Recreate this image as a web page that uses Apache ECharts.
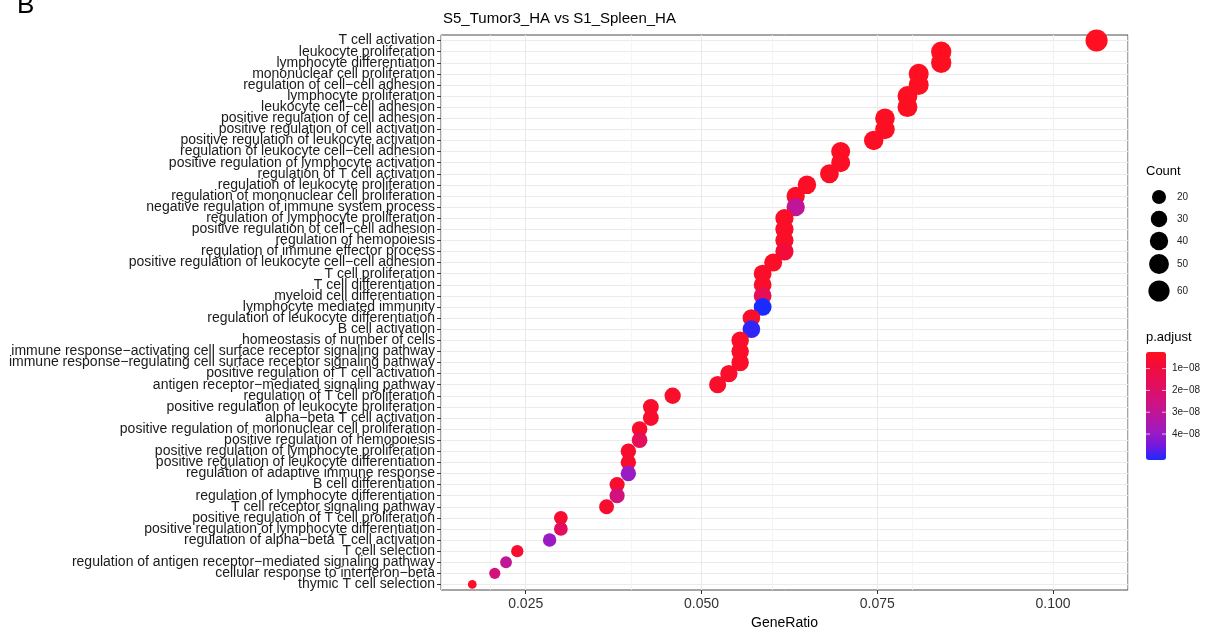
<!DOCTYPE html>
<html>
<head>
<meta charset="utf-8">
<title>S5_Tumor3_HA vs S1_Spleen_HA</title>
<script src="https://cdn.jsdelivr.net/npm/echarts@6/dist/echarts.min.js"></script>
<style>
  html, body { margin: 0; padding: 0; background: #fff; }
  #main { width: 1209px; height: 628px; }
</style>
</head>
<body>
<div id="main"></div>
<script>
// GO terms, top to bottom
var terms = [
  'T cell activation',
  'leukocyte proliferation',
  'lymphocyte differentiation',
  'mononuclear cell proliferation',
  'regulation of cell\u2212cell adhesion',
  'lymphocyte proliferation',
  'leukocyte cell\u2212cell adhesion',
  'positive regulation of cell adhesion',
  'positive regulation of cell activation',
  'positive regulation of leukocyte activation',
  'regulation of leukocyte cell\u2212cell adhesion',
  'positive regulation of lymphocyte activation',
  'regulation of T cell activation',
  'regulation of leukocyte proliferation',
  'regulation of mononuclear cell proliferation',
  'negative regulation of immune system process',
  'regulation of lymphocyte proliferation',
  'positive regulation of cell\u2212cell adhesion',
  'regulation of hemopoiesis',
  'regulation of immune effector process',
  'positive regulation of leukocyte cell\u2212cell adhesion',
  'T cell proliferation',
  'T cell differentiation',
  'myeloid cell differentiation',
  'lymphocyte mediated immunity',
  'regulation of leukocyte differentiation',
  'B cell activation',
  'homeostasis of number of cells',
  'immune response\u2212activating cell surface receptor signaling pathway',
  'immune response\u2212regulating cell surface receptor signaling pathway',
  'positive regulation of T cell activation',
  'antigen receptor\u2212mediated signaling pathway',
  'regulation of T cell proliferation',
  'positive regulation of leukocyte proliferation',
  'alpha\u2212beta T cell activation',
  'positive regulation of mononuclear cell proliferation',
  'positive regulation of hemopoiesis',
  'positive regulation of lymphocyte proliferation',
  'positive regulation of leukocyte differentiation',
  'regulation of adaptive immune response',
  'B cell differentiation',
  'regulation of lymphocyte differentiation',
  'T cell receptor signaling pathway',
  'positive regulation of T cell proliferation',
  'positive regulation of lymphocyte differentiation',
  'regulation of alpha\u2212beta T cell activation',
  'T cell selection',
  'regulation of antigen receptor\u2212mediated signaling pathway',
  'cellular response to interferon\u2212beta',
  'thymic T cell selection'
];

var geneRatio = [
  0.1062, 0.0841, 0.0841, 0.0809, 0.0809, 0.0793, 0.0793, 0.0761, 0.0761, 0.0745,
  0.0698, 0.0698, 0.0682, 0.0650, 0.0634, 0.0634, 0.0618, 0.0618, 0.0618, 0.0618,
  0.0602, 0.0587, 0.0587, 0.0587, 0.0587, 0.0571, 0.0571, 0.0555, 0.0555, 0.0555,
  0.0539, 0.0523, 0.0459, 0.0428, 0.0428, 0.0412, 0.0412, 0.0396, 0.0396, 0.0396,
  0.0380, 0.0380, 0.0365, 0.0300, 0.0300, 0.0284, 0.0238, 0.0222, 0.0206, 0.0174
];

var geneCount = [
  67, 53, 53, 51, 51, 50, 50, 48, 48, 47,
  44, 44, 43, 41, 40, 40, 39, 39, 39, 39,
  38, 37, 37, 37, 37, 36, 36, 35, 35, 35,
  34, 33, 29, 27, 27, 26, 26, 25, 25, 25,
  24, 24, 23, 19, 19, 18, 15, 14, 13, 11
];

var pAdjust = [
  2.4e-9, 2.6e-9, 2.7e-9, 2.9e-9, 3.0e-9, 3.1e-9, 3.2e-9, 3.3e-9, 3.4e-9, 3.5e-9,
  3.6e-9, 3.7e-9, 3.8e-9, 3.9e-9, 4.0e-9, 3.0e-8, 4.1e-9, 4.2e-9, 4.3e-9, 8.3e-9,
  4.4e-9, 4.5e-9, 4.6e-9, 1.55e-8, 5.19e-8, 4.7e-9, 5.04e-8, 4.8e-9, 4.9e-9, 5.0e-9,
  5.1e-9, 5.2e-9, 5.3e-9, 5.4e-9, 5.5e-9, 5.6e-9, 1.63e-8, 5.7e-9, 5.8e-9, 3.95e-8,
  5.9e-9, 2.4e-8, 6.0e-9, 6.1e-9, 1.73e-8, 3.95e-8, 6.2e-9, 3.0e-8, 2.4e-8, 4.9e-9
];

var xTicks = [0.025, 0.050, 0.075, 0.100];
var xMinorTicks = [0.0375, 0.0625, 0.0875];
var countBreaks = [20, 30, 40, 50, 60];
var padjBreaks = [1e-8, 2e-8, 3e-8, 4e-8];
var padjBreakLabels = ['1e\u221208', '2e\u221208', '3e\u221208', '4e\u221208'];

var FONT = '"Liberation Sans", Arial, Helvetica, sans-serif';

// size scale (ggplot-like area scale)
var cMin = Math.min.apply(null, geneCount), cMax = Math.max.apply(null, geneCount);
function dotSize(c) {
  var t = Math.max(0, (c - cMin) / (cMax - cMin));
  return 8.7 + 13.4 * Math.sqrt(t);
}
var pMin = Math.min.apply(null, pAdjust), pMax = Math.max.apply(null, pAdjust);

var points = terms.map(function (t, i) {
  return [geneRatio[i], t, geneCount[i], pAdjust[i]];
});

// legend layout
var barLeft = 1146, barTop = 352, barW = 20, barH = 108;
var countKeyY = [197, 219, 241, 264, 291];
var graphics = [
  { type: 'text', left: 17, top: -7, style: { text: 'B', font: '26px ' + FONT, fill: '#000' } },
  { type: 'text', left: 1146, top: 165, style: { text: 'Count', font: '13px ' + FONT, fill: '#000' } },
  { type: 'text', left: 1146, top: 331, style: { text: 'p.adjust', font: '13px ' + FONT, fill: '#000' } }
];
countBreaks.forEach(function (c, i) {
  graphics.push({ type: 'circle', shape: { cx: 1159, cy: countKeyY[i], r: dotSize(c) / 2 }, style: { fill: '#000' } });
  graphics.push({ type: 'text', x: 1177, y: countKeyY[i], style: { text: String(c), font: '10px ' + FONT, fill: '#222', verticalAlign: 'middle' } });
});
padjBreaks.forEach(function (p, i) {
  var y = barTop + (p - pMin) / (pMax - pMin) * barH;
  graphics.push({ type: 'line', shape: { x1: barLeft, y1: y, x2: barLeft + 4, y2: y }, style: { stroke: 'rgba(255,255,255,0.7)', lineWidth: 1 }, z: 100 });
  graphics.push({ type: 'line', shape: { x1: barLeft + barW - 4, y1: y, x2: barLeft + barW, y2: y }, style: { stroke: 'rgba(255,255,255,0.7)', lineWidth: 1 }, z: 100 });
  graphics.push({ type: 'text', x: 1172, y: y, style: { text: padjBreakLabels[i], font: '10px ' + FONT, fill: '#222', verticalAlign: 'middle' } });
});

var chart = echarts.init(document.getElementById('main'), null, { renderer: 'canvas' });
chart.setOption({
  animation: false,
  backgroundColor: '#fff',
  title: {
    text: 'S5_Tumor3_HA vs S1_Spleen_HA',
    left: 443, top: 11, padding: 0,
    textStyle: { fontFamily: FONT, fontSize: 15, fontWeight: 'normal', color: '#000' }
  },
  grid: {
    left: 441, top: 35, width: 687, height: 555,
    outerBoundsMode: 'none', containLabel: false,
    show: true, borderColor: '#4d4d4d', borderWidth: 1, backgroundColor: 'transparent'
  },
  xAxis: [{
    type: 'value',
    min: 0.01295, max: 0.11067,
    name: 'GeneRatio', nameLocation: 'middle', nameGap: 22,
    nameTextStyle: { fontFamily: FONT, fontSize: 14, color: '#000' },
    axisLine: { show: false },
    axisTick: { show: true, length: 4, customValues: xTicks, lineStyle: { color: '#333' } },
    axisLabel: {
      customValues: xTicks, margin: 7,
      fontFamily: FONT, fontSize: 14, color: '#333',
      formatter: function (v) { return v.toFixed(3); }
    },
    splitLine: { show: true, customValues: xTicks, lineStyle: { color: '#ebebeb', width: 1.1 } }
  }, {
    type: 'value',
    min: 0.01295, max: 0.11067,
    position: 'bottom',
    axisLine: { show: false }, axisTick: { show: false }, axisLabel: { show: false },
    splitLine: { show: true, customValues: xMinorTicks, lineStyle: { color: '#f3f3f3', width: 0.8 } }
  }],
  yAxis: {
    type: 'category',
    data: terms,
    inverse: true,
    boundaryGap: true,
    axisLine: { show: false },
    axisTick: { show: true, interval: 0, alignWithLabel: true, length: 4, lineStyle: { color: '#333' } },
    axisLabel: { interval: 0, margin: 6, fontFamily: FONT, fontSize: 14, color: '#1a1a1a' },
    splitLine: { show: true, interval: 0, alignWithLabel: true, lineStyle: { color: '#ebebeb', width: 1.1 } }
  },
  visualMap: {
    type: 'continuous',
    min: pMin, max: pMax,
    dimension: 3, seriesIndex: 0,
    orient: 'vertical', inverse: true,
    left: barLeft, top: barTop, itemWidth: barW, itemHeight: barH,
    padding: 0, calculable: false, hoverLink: false,
    inRange: { color: ['#FF0F1F', '#F20C3A', '#E80E52', '#DA0F6C', '#CA1489', '#B416A5', '#9A1BC4', '#7218E0', '#1A2BFF'] }
  },
  graphic: graphics,
  series: [{
    type: 'scatter',
    xAxisIndex: 0,
    data: points,
    symbol: 'circle',
    symbolSize: function (v) { return dotSize(v[2]); },
    itemStyle: { opacity: 1 },
    emphasis: { disabled: true }
  }]
});
</script>
</body>
</html>
